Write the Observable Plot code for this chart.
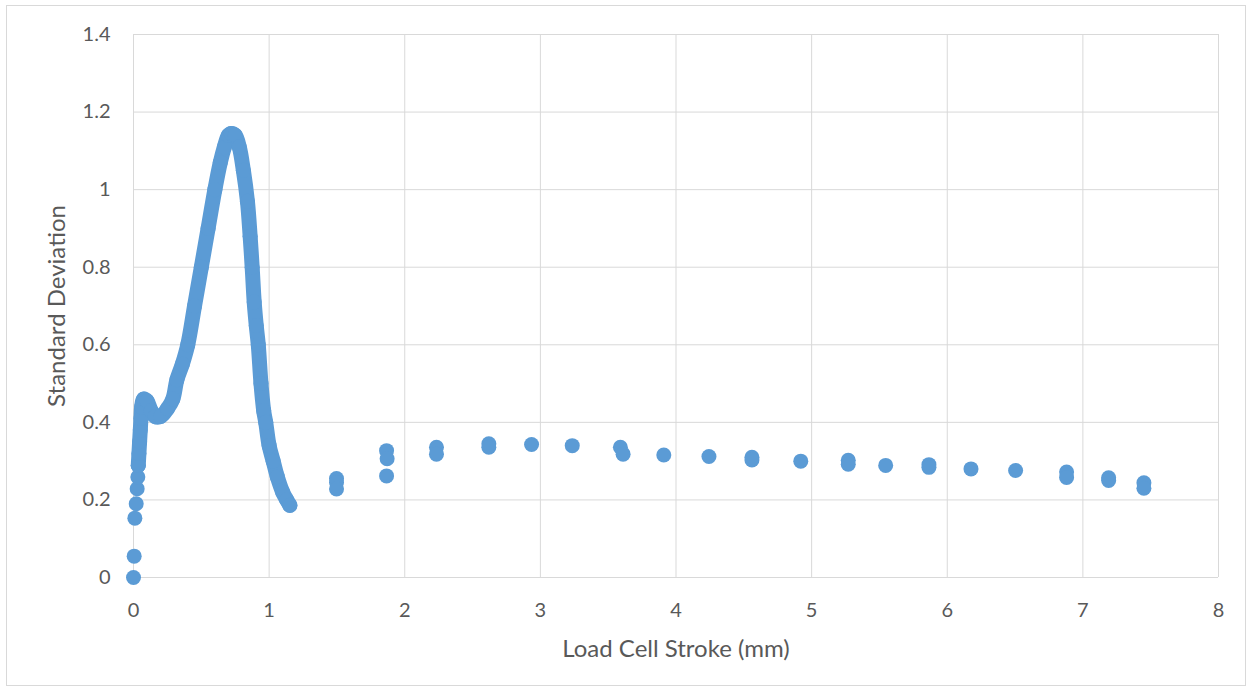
<!DOCTYPE html>
<html>
<head>
<meta charset="utf-8">
<script src="https://cdn.jsdelivr.net/npm/d3@7"></script>
<script src="https://cdn.jsdelivr.net/npm/@observablehq/plot@0.6"></script>
<style>
  html, body { margin: 0; padding: 0; background: #fff; }
  #frame { position: absolute; left: 6px; top: 5px; width: 1240px; height: 681px; border: 1px solid #d9d9d9; box-sizing: border-box; }
  #chart { position: absolute; left: 0; top: 0; }
</style>
</head>
<body>
<div id="frame"></div>
<div id="chart"></div>
<script>
// Isolated start-up readings (x = stroke mm, y = std deviation)
const startX = [0, 0.005, 0.01, 0.02, 0.027, 0.032, 0.035];
const startY = [0, 0.055, 0.153, 0.19, 0.229, 0.259, 0.289];

// Dense continuous trace (stroke mm, std deviation)
const curveX = [0.035, 0.04, 0.045, 0.05, 0.055, 0.06, 0.075, 0.10, 0.13, 0.16, 0.20, 0.25, 0.29, 0.32, 0.36, 0.40, 0.45, 0.50, 0.55, 0.60, 0.64, 0.67, 0.70, 0.72, 0.75, 0.78, 0.81, 0.84, 0.86, 0.875, 0.89, 0.905, 0.92, 0.94, 0.96, 0.975, 1.0, 1.03, 1.06, 1.10, 1.13, 1.153];
const curveY = [0.289, 0.32, 0.35, 0.38, 0.41, 0.44, 0.46, 0.455, 0.43, 0.415, 0.415, 0.435, 0.46, 0.51, 0.55, 0.60, 0.70, 0.80, 0.90, 1.00, 1.07, 1.11, 1.14, 1.145, 1.14, 1.11, 1.05, 0.97, 0.88, 0.80, 0.71, 0.65, 0.60, 0.50, 0.43, 0.40, 0.34, 0.30, 0.26, 0.22, 0.20, 0.186];

// Sparse readings later in the test
const sparseX = [1.497, 1.497, 1.497, 1.866, 1.87, 1.866, 2.234, 2.234, 2.62, 2.62, 2.935, 3.235, 3.59, 3.61, 3.91, 4.243, 4.56, 4.56, 4.92, 5.27, 5.27, 5.546, 5.865, 5.865, 6.175, 6.504, 6.88, 6.88, 7.19, 7.19, 7.45, 7.45];
const sparseY = [0.255, 0.245, 0.228, 0.327, 0.306, 0.262, 0.336, 0.318, 0.345, 0.336, 0.343, 0.340, 0.336, 0.318, 0.316, 0.312, 0.310, 0.303, 0.300, 0.302, 0.292, 0.289, 0.291, 0.284, 0.280, 0.276, 0.272, 0.258, 0.257, 0.250, 0.244, 0.230];

const xTicks = [0, 1, 2, 3, 4, 5, 6, 7, 8];
const yTicks = [0, 0.2, 0.4, 0.6, 0.8, 1, 1.2, 1.4];
const xTitle = "Load Cell Stroke (mm)";
const yTitle = "Standard Deviation";

const zip = (xs, ys) => xs.map((x, i) => ({x, y: ys[i]}));
const startPts = zip(startX, startY);
const curvePts = zip(curveX, curveY);
const sparsePts = zip(sparseX, sparseY);
const allPts = [...startPts, ...curvePts, ...sparsePts];

const blue = "#5b9bd5";
const grid = "#d9d9d9";
const ink = "#595959";

const chart = Plot.plot({
  width: 1253,
  height: 691,
  marginLeft: 133,
  marginRight: 35,
  marginTop: 34,
  marginBottom: 114,
  style: { fontFamily: "Lato, 'Open Sans', sans-serif", fontSize: "20px", color: ink, background: "transparent" },
  x: { domain: [0, 8], ticks: xTicks },
  y: { domain: [0, 1.4], ticks: yTicks },
  marks: [
    Plot.gridX(xTicks, { stroke: grid, strokeOpacity: 1, strokeWidth: 1 }),
    Plot.gridY(yTicks, { stroke: grid, strokeOpacity: 1, strokeWidth: 1 }),
    Plot.axisX(xTicks, { tickSize: 0, tickPadding: 25, tickFormat: d => String(d), fontSize: 20, fill: ink, label: null }),
    Plot.axisY(yTicks, { tickSize: 0, tickPadding: 23, tickFormat: d => String(d), fontSize: 20, fill: ink, label: null }),
    Plot.text([xTitle], { frameAnchor: "bottom", dy: 72, lineAnchor: "middle", textAnchor: "middle", fontSize: 24, fill: ink }),
    Plot.text([yTitle], { frameAnchor: "left", dx: -76, rotate: -90, lineAnchor: "middle", textAnchor: "middle", fontSize: 24, fill: ink }),
    Plot.ruleY([0], { stroke: grid, strokeWidth: 1 }),
    Plot.ruleX([0], { stroke: grid, strokeWidth: 1 }),
    Plot.line(curvePts, { x: "x", y: "y", stroke: blue, strokeWidth: 15, strokeLinecap: "round", strokeLinejoin: "round", curve: "catmull-rom" }),
    Plot.dot(allPts, { x: "x", y: "y", r: 7.5, fill: blue, stroke: "none" })
  ]
});
document.getElementById("chart").appendChild(chart);
</script>
</body>
</html>
